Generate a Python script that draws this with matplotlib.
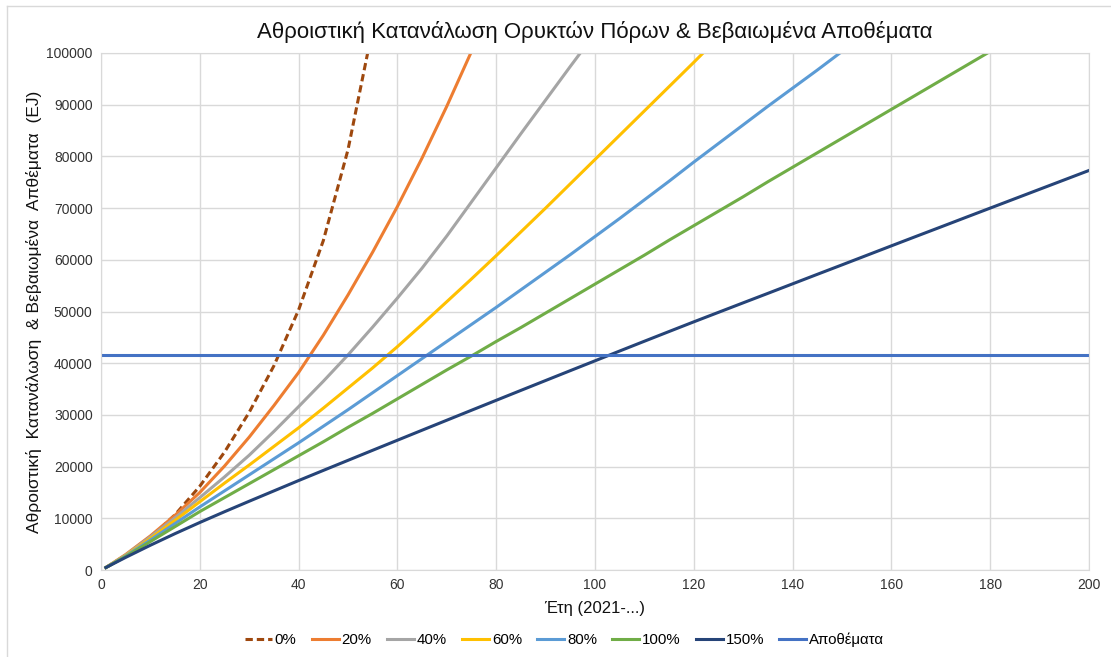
import matplotlib.pyplot as plt
from matplotlib.lines import Line2D

plt.rcParams['font.family'] = ['Liberation Sans', 'DejaVu Sans']

# years since 2021 (sampled every 5 years)
years = [1] + list(range(5, 205, 5))

# cumulative fossil consumption (EJ) per scenario
cum_0 = [480, 2800, 6300, 10700, 16200, 22800, 30500, 39500, 50300, 63700, 81300, 104800]
cum_20 = [480, 3000, 6600, 10600, 15000, 20100, 25700, 31800, 38200, 45400, 53200, 61500,
          70300, 79700, 89700, 100300]
cum_40 = [480, 2900, 6400, 10100, 14000, 18000, 22200, 26800, 31600, 36500, 41600, 47000,
          52600, 58400, 64600, 71200, 77800, 84400, 90900, 97400, 103800]
cum_60 = [480, 2800, 6100, 9600, 13200, 16800, 20300, 23900, 27500, 31300, 35200, 39100,
          43200, 47500, 51900, 56300, 60800, 65400, 70000, 74700, 79400, 84100, 88800,
          93500, 98200, 103000]
cum_80 = [480, 2700, 5800, 9000, 12200, 15300, 18400, 21500, 24600, 27800, 31000, 34300,
          37600, 40900, 44200, 47500, 50800, 54200, 57600, 61000, 64500, 68000, 71600,
          75200, 78900, 82500, 86100, 89700, 93200, 96700, 100300]
cum_100 = [480, 2600, 5500, 8400, 11300, 14000, 16700, 19400, 22100, 24800, 27600, 30300,
           33100, 35900, 38700, 41400, 44200, 46900, 49700, 52500, 55300, 58100, 60900,
           63800, 66600, 69400, 72200, 75100, 77900, 80700, 83500, 86300, 89100, 91900,
           94700, 97500, 100300]
cum_150 = [480, 2440, 4790, 7040, 9190, 11270, 13300, 15300, 17300, 19260, 21210, 23160,
           25100, 27040, 28970, 30900, 32820, 34740, 36650, 38560, 40460, 42360, 44250,
           46130, 48000, 49840, 51680, 53510, 55350, 57190, 59020, 60860, 62700, 64530,
           66350, 68180, 70000, 71820, 73640, 75460, 77280]

reserve_years = [0, 200]
reserve = [41600, 41600]

series = [
    ('0%', cum_0, '#9E480E', '--'),
    ('20%', cum_20, '#ED7D31', '-'),
    ('40%', cum_40, '#A5A5A5', '-'),
    ('60%', cum_60, '#FFC000', '-'),
    ('80%', cum_80, '#5B9BD5', '-'),
    ('100%', cum_100, '#70AD47', '-'),
    ('150%', cum_150, '#264478', '-'),
]

fig = plt.figure(figsize=(11.11, 6.57), dpi=100)
ax = fig.add_axes([101 / 1111, 1 - 570 / 657, 988 / 1111, 517 / 657])

for label, vals, color, ls in series:
    ax.plot(years[:len(vals)], vals, color=color, ls=ls, lw=2.2, label=label,
            dashes=(2.4, 1.3) if ls == '--' else (None, None))
ax.plot(reserve_years, reserve, color='#4472C4', lw=2.2, label='Αποθέματα')

ax.set_xlim(0, 200)
ax.set_ylim(0, 100000)
ax.set_xticks(range(0, 201, 20))
ax.set_yticks(range(0, 100001, 10000))
ax.grid(True, color='#D9D9D9', lw=1)
ax.set_axisbelow(True)
for s in ax.spines.values():
    s.set_color('#D9D9D9')
ax.tick_params(length=0, labelsize=10, pad=6)
for t in ax.get_xticklabels() + ax.get_yticklabels():
    t.set_color('#333333')

ax.set_title('Αθροιστική Κατανάλωση Ορυκτών Πόρων & Βεβαιωμένα Αποθέματα',
             fontsize=16, color='#111111', pad=11)
ax.set_xlabel('Έτη (2021-...)', fontsize=12, color='#111111', labelpad=6)
ax.set_ylabel('Αθροιστική  Κατανάλωση  & Βεβαιωμένα  Απθέματα  (EJ)', fontsize=12.5,
              color='#111111', labelpad=3)

handles, labels = ax.get_legend_handles_labels()
fig.legend(handles, labels, loc='center', bbox_to_anchor=(0.508, 1 - 640 / 657), ncol=8,
           frameon=False, fontsize=10.8, handlelength=1.8, handletextpad=0.2,
           columnspacing=1.0)

# chart frame (top and left edges)
fig.add_artist(Line2D([7 / 1111, 1], [1 - 6 / 657, 1 - 6 / 657], color='#D9D9D9', lw=1))
fig.add_artist(Line2D([7 / 1111, 7 / 1111], [0, 1 - 6 / 657], color='#D9D9D9', lw=1))

fig.savefig('out.png', dpi=100)
